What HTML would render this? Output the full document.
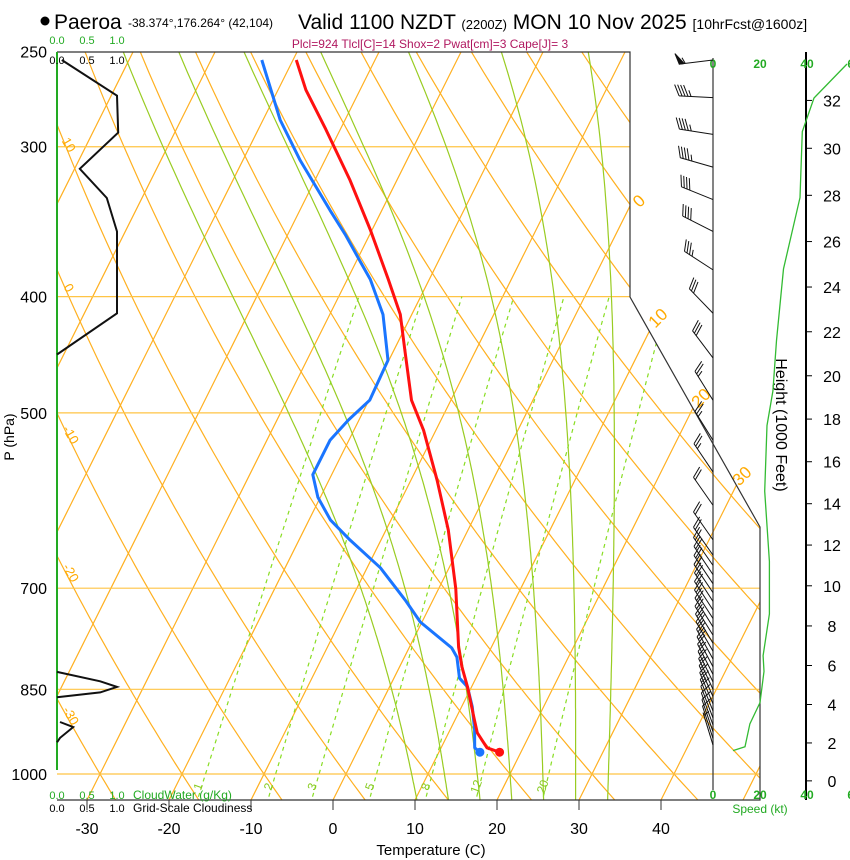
<!DOCTYPE html>
<html><head><meta charset="utf-8">
<style>
html,body{margin:0;padding:0;background:#fff;}
svg{display:block;font-family:"Liberation Sans",sans-serif;}
</style></head>
<body>
<svg id="chart" width="850" height="860" viewBox="0 0 850 860" xmlns="http://www.w3.org/2000/svg">
<defs>
<clipPath id="plotclip"><polygon points="57,52 630,52 630,297 760,527 760,800 57,800"/></clipPath>
</defs>
<g id="title">
<circle cx="45" cy="21" r="4.5" fill="#000"/>
<text x="54" y="29" font-size="21">Paeroa</text>
<text x="128" y="27" font-size="12">-38.374°,176.264° (42,104)</text>
<text x="298" y="29" font-size="21">Valid 1100 NZDT <tspan font-size="13">(2200Z)</tspan> MON 10 Nov 2025 <tspan font-size="14">[10hrFcst@1600z]</tspan></text>
</g>
<text x="430" y="48" font-size="12" fill="#b01860" text-anchor="middle">Plcl=924 Tlcl[C]=14 Shox=2 Pwat[cm]=3 Cape[J]= 3</text>
<g id="bg" clip-path="url(#plotclip)"></g>
<g id="fg"></g>
</svg>
<script>
// ---- data ----
const isobarLevels=[250,300,400,500,700,850,1000];
const tempTicks=[-30,-20,-10,0,10,20,30,40];
const mixRatios=[1,2,3,5,8,12,20];
const moistThetaW=[8,12,16,20,24,28,32];
const tempP=[959,951,924,902,846,814,784,701,626,569,517,488,443,414,387,352,320,290,269,254];
const tempT=[17.4,15.6,13.5,12.4,9.5,7.6,6.0,2.1,-2.4,-6.8,-11.5,-14.8,-18.7,-21.4,-25.0,-30.2,-35.7,-41.8,-46.6,-49.6];
const dewP=[959,951,919,879,846,832,799,785,747,716,673,638,614,588,563,527,507,488,452,414,387,374,355,339,308,285,254];
const dewT=[15.0,14.1,13.0,11.3,9.5,8.0,6.4,5.2,-0.2,-3.4,-8.4,-13.8,-17.4,-20.3,-22.3,-22.3,-21.3,-19.9,-20.1,-23.5,-27.2,-29.5,-33.0,-36.3,-43.0,-47.9,-53.8];
const cloudP1=[254,272,292,313,331,353,413,447];
const cloudV1=[0.08,1.0,1.02,0.38,0.83,1.0,1.0,0];
const cloudP2=[822,837,846,855,863];
const cloudV2=[0,0.72,1.0,0.72,0];
const cloudP3=[905,914,933,941];
const cloudV3=[0.05,0.27,0.05,0];
const windP=[254,273,293,312,332,353,380,413,450,488,527,560,597,638,657,670,682,694,706,718,730,742,754,766,778,790,802,814,826,838,850,862,874,886,898,910,922,934,946];
const windDir=[263,273,279,286,292,297,303,316,323,328,328,326,325,325,325,325,326,326,326,327,327,327,328,328,329,330,331,332,333,334,335,336,337,338,339,340,341,342,343];
const windSpd=[55,45,45,45,40,40,35,30,30,25,25,25,20,20,20,20,20,20,20,20,20,20,20,20,20,20,20,20,15,15,15,15,15,15,10,10,10,10,5];
const spdH=[1.6,1.8,3.0,4.1,5.7,6.5,8.6,11.2,14.6,17.7,19.3,21.6,24.8,27.9,30.7,32.1,33.5];
const spdKt=[8.5,13.6,15.7,20,21.7,21.3,24,24,22,23,25.5,27,30,37,38,43,57];
const heightTicks=[0,2,4,6,8,10,12,14,16,18,20,22,24,26,28,30,32];
const speedTicks=[0,20,40,60];
const cloudTicks=[0.0,0.5,1.0];

// ---- axes ----
const NS="http://www.w3.org/2000/svg";
function yP(p){return 774+521*Math.log(p/1000);}
function xT(T,y){return 333+8.2*T+0.5*(800-y);}
function pH(kft){const m=kft*304.8;return 1013.25*Math.pow(1-2.25577e-5*m,5.25588);}
function xSpd(k){return 713+2.35*k;}
function xCloud(v){return 57+60*v;}
const bg=document.getElementById('bg'), fg=document.getElementById('fg');
function mk(tag,attrs,parent){const e=document.createElementNS(NS,tag);for(const k in attrs)e.setAttribute(k,attrs[k]);(parent||fg).appendChild(e);return e;}
function pts(arr){return arr.map(a=>a[0].toFixed(1)+','+a[1].toFixed(1)).join(' ');}

// isotherms
for(let T=-110;T<=50;T+=10){
  const l=mk('line',{x1:xT(T,800),y1:800,x2:xT(T,52),y2:52,stroke:'#ffb020','stroke-width':1.2},bg);
  
  
}
// dry adiabats
for(let th=-30;th<=130;th+=10){
  const a=[];
  for(let p=1060;p>=250;p-=10){const T=(th+273.15)*Math.pow(p/1000,0.2857)-273.15;const y=yP(p);a.push([xT(T,y),y]);}
  const l=mk('polyline',{points:pts(a),fill:'none',stroke:'#ffb020','stroke-width':1.2},bg);
  
  
}
// isobars
isobarLevels.forEach(p=>{
  const y=yP(p);
  const l=mk('line',{x1:57,y1:y,x2:760,y2:y,stroke:'#ffc445','stroke-width':1.2},bg);
  
  
});
// moist adiabats
function es(T){return 6.112*Math.exp(17.67*T/(T+243.5));}
function moist(tw){
  const res=[];const Rd=287,cp=1005,L=2.5e6,eps=0.622;
  function step(T,p,dp){const Tk=T+273.15;const rs=eps*es(T)/(p-es(T));
    const d=(Rd*Tk+L*rs)/(p*(cp+L*L*rs*eps/(Rd*Tk*Tk)));return T+d*dp;}
  let T=tw,p=1000;const down=[];
  for(;p<1060;p+=5){down.push([p,T]);T=step(T,p,5);}
  T=tw;p=1000;const up=[];
  for(;p>=250;p-=5){up.push([p,T]);T=step(T,p,-5);}
  down.reverse().concat(up).forEach(q=>{const y=yP(q[0]);res.push([xT(q[1],y),y]);});
  return res;
}
moistThetaW.forEach(tw=>{
  const l=mk('polyline',{points:pts(moist(tw)),fill:'none',stroke:'#99cc22','stroke-width':1.2},bg);
  
  
});
// mixing ratio lines
function tdW(w,p){const e=w*p/(622+w);const l=Math.log(e/6.112);return 243.5*l/(17.67-l);}
mixRatios.forEach(w=>{
  const a=[];for(let p=1060;p>=400;p-=10){const y=yP(p);a.push([xT(tdW(w,p),y),y]);}
  const l=mk('polyline',{points:pts(a),fill:'none',stroke:'#88dd22','stroke-width':1.2,'stroke-dasharray':'4,4'},bg);
  
  
  const yl=788,xl=xT(tdW(w,1035),yl);
  const t=mk('text',{x:xl,y:yl,'font-size':12,fill:'#88cc22','text-anchor':'middle',transform:`rotate(-70 ${xl} ${yl})`});
  t.textContent=w;
  
  
});
// theta labels
[[10,65,147],[0,65,290],[-10,67,437],[-20,67,575],[-30,67,718]].forEach(d=>{
  const t=mk('text',{x:d[1],y:d[2],'font-size':13,fill:'#ffaa00','text-anchor':'middle',transform:`rotate(60 ${d[1]} ${d[2]})`});
  t.textContent=d[0];
  
  
});
[[0,643,205],[10,662,322],[20,705,402],[30,746,480]].forEach(d=>{
  const t=mk('text',{x:d[1],y:d[2],'font-size':17,fill:'#ffaa00','text-anchor':'middle',transform:`rotate(-45 ${d[1]} ${d[2]})`});
  t.textContent=d[0];
  
  
});

// frame
let f=mk('polyline',{points:'57,52 630,52 630,297 760,527 760,800 57,800',fill:'none',stroke:'#333','stroke-width':1.2});


f=mk('line',{x1:57,y1:52,x2:57,y2:770,stroke:'#22aa22','stroke-width':2});


f=mk('line',{x1:713,y1:58,x2:713,y2:790,stroke:'#333','stroke-width':1.2});


f=mk('line',{x1:806,y1:52,x2:806,y2:800,stroke:'#000','stroke-width':2});



// pressure labels
isobarLevels.forEach(p=>{
  const t=mk('text',{x:47,y:yP(p)+6,'font-size':16,'text-anchor':'end'});
  t.textContent=p;
  
  
});
f=mk('text',{x:14,y:437,'font-size':14,'text-anchor':'middle',transform:'rotate(-90 14 437)'});
f.textContent='P (hPa)';


// temp ticks
tempTicks.forEach(T=>{
  const x=333+8.2*T;
  const l=mk('line',{x1:x,y1:800,x2:x,y2:810,stroke:'#333'});
  
  
  const t=mk('text',{x:x,y:834,'font-size':16,'text-anchor':'middle'});
  t.textContent=T;
  
  
});
f=mk('text',{x:431,y:855,'font-size':15,'text-anchor':'middle'});
f.textContent='Temperature (C)';



// cloud scale labels
cloudTicks.forEach(v=>{
  [[44,'#22aa22'],[64,'#000'],[799,'#22aa22'],[812,'#000']].forEach(r=>{
    const t=mk('text',{x:xCloud(v),y:r[0],'font-size':11,fill:r[1],'text-anchor':'middle'});
    t.textContent=v.toFixed(1);
    
    
  });
});
f=mk('text',{x:133,y:799,'font-size':12,fill:'#22aa22'});f.textContent='CloudWater (g/Kg)';


f=mk('text',{x:133,y:812,'font-size':12,fill:'#000'});f.textContent='Grid-Scale Cloudiness';



// cloudiness profiles
[[cloudP1,cloudV1],[cloudP2,cloudV2],[cloudP3,cloudV3]].forEach(c=>{
  const a=c[0].map((p,i)=>[xCloud(c[1][i]),yP(p)]);
  const l=mk('polyline',{points:pts(a),fill:'none',stroke:'#111','stroke-width':2});
  
  
});

// temperature & dewpoint
function prof(P,T,col,name){
  const a=P.map((p,i)=>{const y=yP(p);return [xT(T[i],y),y];});
  const l=mk('polyline',{points:pts(a),fill:'none',stroke:col,'stroke-width':3,'stroke-linejoin':'round'});
  
  
  const c=mk('circle',{cx:a[0][0],cy:a[0][1],r:4.5,fill:col});
  
  
}
prof(dewP,dewT,'#1a75ff','dewpoint-line');
prof(tempP,tempT,'#ff1010','temperature-line');

// speed axis labels
speedTicks.forEach(k=>{
  [68,799].forEach(y=>{
    const t=mk('text',{x:xSpd(k),y:y,'font-size':12,'font-weight':'bold',fill:'#22aa22','text-anchor':'middle'});
    t.textContent=k;
    
    
  });
});
f=mk('text',{x:760,y:813,'font-size':12,fill:'#22aa22','text-anchor':'middle'});f.textContent='Speed (kt)';


// height ticks
heightTicks.forEach(h=>{
  const y=yP(pH(h));
  const l=mk('line',{x1:806,y1:y,x2:812,y2:y,stroke:'#000'});
  
  
  const t=mk('text',{x:832,y:y+6,'font-size':16,'text-anchor':'middle'});
  t.textContent=h;
  
  
});
f=mk('text',{x:776,y:425,'font-size':16,'text-anchor':'middle',transform:'rotate(90 776 425)'});
f.textContent='Height (1000 Feet)';


// speed profile
f=mk('polyline',{points:pts(spdH.map((h,i)=>[xSpd(spdKt[i]),yP(pH(h))])),fill:'none',stroke:'#33bb33','stroke-width':1.3});



// wind barbs
windP.forEach((p,i)=>{
  const y0=yP(p),x0=713;
  const r=windDir[i]*Math.PI/180;
  const dx=Math.sin(r),dy=-Math.cos(r); // toward upwind in screen (north = up)
  const L=34;
  const ex=x0+dx*L,ey=y0+dy*L;
  const g=mk('g',{stroke:'#111','stroke-width':1,fill:'#111'});
  
  
  mk('line',{x1:x0,y1:y0,x2:ex,y2:ey},g);
  const px=-dy,py=dx;
  let s=windSpd[i],pos=0;
  const fx=(d)=>ex-dx*d, fy=(d)=>ey-dy*d;
  while(s>=50){
    mk('polygon',{points:`${fx(pos)},${fy(pos)} ${fx(pos)+px*11+dx*3},${fy(pos)+py*11+dy*3} ${fx(pos+5)},${fy(pos+5)}`},g);
    pos+=6;s-=50;
  }
  while(s>=10){
    mk('line',{x1:fx(pos),y1:fy(pos),x2:fx(pos)+px*11+dx*5,y2:fy(pos)+py*11+dy*5},g);
    pos+=3;s-=10;
  }
  if(s>=5){
    if(pos===0)pos=3;
    mk('line',{x1:fx(pos),y1:fy(pos),x2:fx(pos)+px*6+dx*2.5,y2:fy(pos)+py*6+dy*2.5},g);
  }
});
</script>
</body></html>
